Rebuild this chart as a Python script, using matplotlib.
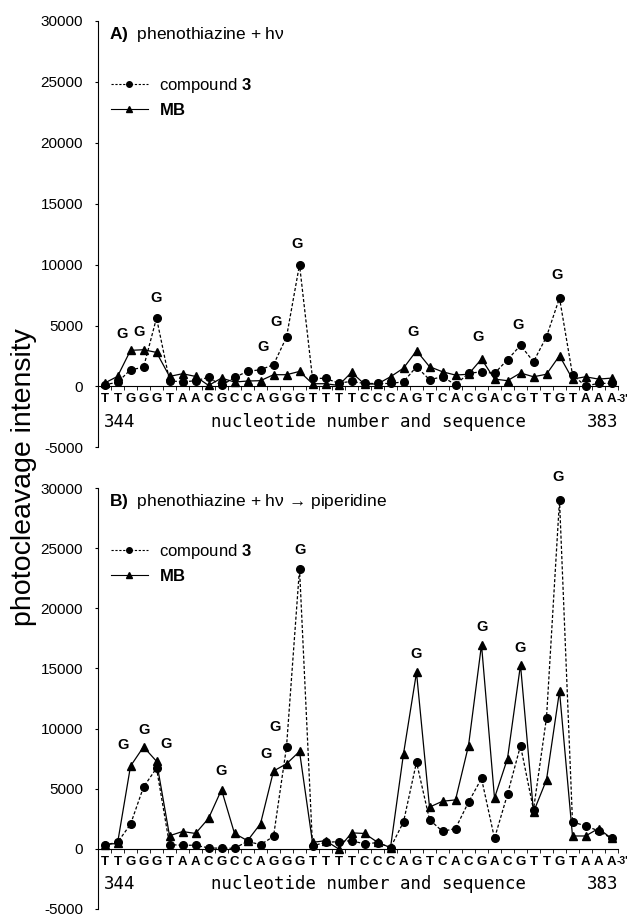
import numpy as np
import matplotlib
matplotlib.use('Agg')
import matplotlib.pyplot as plt
from matplotlib.lines import Line2D

plt.rcParams['font.family'] = ['Liberation Sans', 'DejaVu Sans']
plt.rcParams['axes.unicode_minus'] = False
plt.rcParams['mathtext.fontset'] = 'custom'
plt.rcParams['mathtext.rm'] = 'Liberation Sans'
plt.rcParams['mathtext.bf'] = 'Liberation Sans:bold'

# 配列 (344 -> 383)
sequence = list('TTGGGTAACGCCAGGGTTTTCCCAGTCACGACGTTGTAAA')
firstNt = 344
lastNt = 383

# A) phenothiazine + hv
compA = [140, 330, 1370, 1560, 5620, 470, 360, 470, 740, 80,
         740, 1230, 1370, 1780, 4050, 10000, 660, 660, 270, 410,
         240, 240, 240, 380, 1620, 550, 790, 140, 1070, 1200,
         1070, 2190, 3370, 2030, 4080, 7260, 960, 30, 250, 250]
mbA = [270, 820, 2960, 3010, 2790, 820, 1040, 820, 80, 680,
       360, 440, 470, 960, 960, 1230, 220, 220, 80, 1150,
       190, 200, 790, 1500, 2930, 1620, 1200, 930, 1000, 2250,
       600, 470, 1100, 790, 1000, 2520, 600, 790, 600, 680]

# B) phenothiazine + hv -> piperidine
compB = [330, 540, 2040, 5140, 6710, 350, 300, 300, 80, 50,
         50, 620, 350, 1030, 8480, 23300, 250, 540, 600, 680,
         410, 520, 100, 2240, 7210, 2430, 1450, 1690, 3880, 5850,
         870, 4540, 8580, 3250, 10900, 29000, 2240, 1910, 1500, 870]
mbB = [350, 460, 6880, 8480, 7280, 1090, 1440, 1280, 2530, 4920,
       1280, 680, 2090, 6470, 7070, 8100, 540, 680, 0, 1330,
       1280, 550, 100, 7900, 14670, 3470, 3960, 4070, 8580, 16970,
       4230, 7510, 15300, 3060, 5740, 13110, 1070, 1070, 1690, 870]

# "G" ラベルの位置 (レイアウト用)
gLabelsA = [(1.32, 4280), (2.68, 4470), (3.96, 7240), (12.17, 3230), (13.19, 5260),
            (14.78, 11710), (23.71, 4450), (28.75, 4040), (31.83, 5070), (34.78, 9140)]
gLabelsB = [(1.41, 8610), (3.07, 9910), (4.72, 8750), (8.94, 6460), (12.4, 7850),
            (13.11, 10130), (15.03, 24860), (23.94, 16160), (29.03, 18470),
            (31.93, 16710), (34.92, 30910)]

W, H = 635, 916
fig = plt.figure(figsize=(W / 100, H / 100), dpi=100)

def axRect(left, right, top, bottom):
    return [left / W, 1 - bottom / H, (right - left) / W, (bottom - top) / H]

def drawPanel(ax, comp, mb, gLabels, title):
    x = np.arange(len(sequence))
    ax.plot(x, comp, color='k', ls=(0, (2.5, 1.6)), lw=0.9, marker='o', ms=5.5, zorder=3)
    ax.plot(x, mb, color='k', ls='-', lw=0.9, marker='^', ms=6, zorder=3)

    ax.set_xlim(-0.54, 39.5)
    ax.set_ylim(-5000, 30000)
    ax.set_yticks(np.arange(-5000, 30001, 5000))
    ax.tick_params(axis='y', direction='out', length=2.5, width=0.8, pad=8, labelsize=11)

    for s in ['top', 'right']:
        ax.spines[s].set_visible(False)
    ax.spines['left'].set_linewidth(0.8)
    ax.spines['bottom'].set_position(('data', 0))
    ax.spines['bottom'].set_linewidth(0.8)

    # 区切りの目盛りと塩基の文字
    ax.set_xticks(np.arange(-0.5, 39.6, 1))
    ax.set_xticklabels([])
    ax.set_xticks(x, minor=True)
    ax.set_xticklabels(sequence, minor=True)
    ax.tick_params(axis='x', which='major', direction='out', length=3, width=0.6)
    ax.tick_params(axis='x', which='minor', length=0, pad=5, labelsize=9.5)
    for lbl in ax.get_xticklabels(minor=True):
        lbl.set_fontweight('bold')

    ax.text(39.42, -1000, "-3'", fontsize=7.5, fontweight='bold', ha='left', va='center', clip_on=False)
    ax.text(1.19, -2950, str(firstNt), family='DejaVu Sans Mono', fontsize=12.5, ha='center', va='center')
    ax.text(38.32, -2950, str(lastNt), family='DejaVu Sans Mono', fontsize=12.5, ha='center', va='center')
    ax.text(20.27, -2950, 'nucleotide number and sequence', family='DejaVu Sans Mono',
            fontsize=12.5, ha='center', va='center')

    for gx, gy in gLabels:
        ax.text(gx, gy, 'G', fontsize=10.5, fontweight='bold', ha='center', va='center', clip_on=False)

    ax.text(0.022, 0.968, title, transform=ax.transAxes, fontsize=12.5, ha='left', va='center')

    handles = [Line2D([], [], color='k', ls=(0, (2, 1.5)), lw=0.8, marker='o', ms=4),
               Line2D([], [], color='k', ls='-', lw=0.8, marker='^', ms=4)]
    ax.legend(handles, ['compound $\\mathbf{3}$', '$\\mathbf{MB}$'], loc='upper left',
              bbox_to_anchor=(0.026, 0.871), frameon=False, fontsize=12,
              handlelength=2.2, handletextpad=0.7, labelspacing=0.4,
              borderpad=0, borderaxespad=0)

axA = fig.add_axes(axRect(97.5, 618, 21, 447.3))
drawPanel(axA, compA, mbA, gLabelsA, '$\\mathbf{A)}$  phenothiazine + h\u03bd')

axB = fig.add_axes(axRect(97.5, 618, 488, 909))
drawPanel(axB, compB, mbB, gLabelsB, '$\\mathbf{B)}$  phenothiazine + h\u03bd \u2192 piperidine')

fig.text(24 / W, 1 - 476.7 / H, 'photocleavage intensity', rotation=90,
         fontsize=20.5, ha='center', va='center')

fig.savefig('out.png', dpi=100)
